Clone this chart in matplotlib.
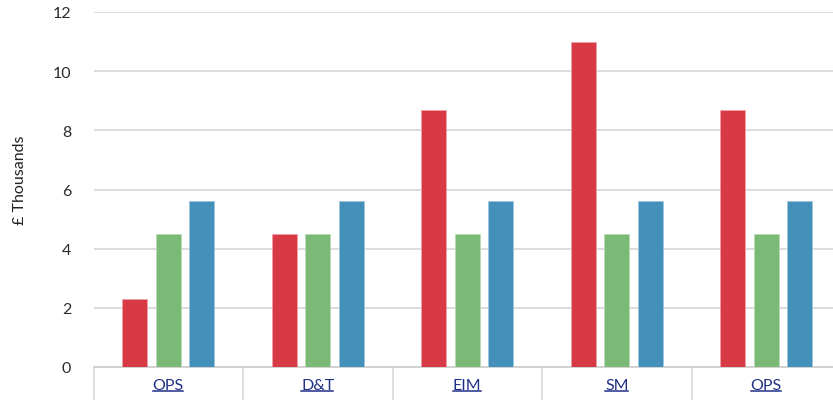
import matplotlib.pyplot as plt
import numpy as np
from matplotlib.lines import Line2D

categories = ['OPS', 'D&T', 'EIM', 'SM', 'OPS']
red_vals = [2.3, 4.5, 8.7, 11.0, 8.7]
green_vals = [4.5, 4.5, 4.5, 4.5, 4.5]
blue_vals = [5.6, 5.6, 5.6, 5.6, 5.6]
y_ticks = [0, 2, 4, 6, 8, 10, 12]

colors = ['#d73a44', '#7aba76', '#4391bb']
edges = ['#eca0a5', '#b6dbb3', '#9cc6dd']

plt.rcParams['font.family'] = ['Lato', 'DejaVu Sans']

W, H = 833, 402
fig = plt.figure(figsize=(W / 100, H / 100), dpi=100)
ax = fig.add_axes([93.5 / W, (H - 368) / H, 747.5 / W, 355 / H])

x = np.arange(len(categories))
off = 0.224
bw = 0.165
for i, vals in enumerate([red_vals, green_vals, blue_vals]):
    ax.bar(x + (i - 1) * off, vals, width=bw, color=colors[i],
           edgecolor=edges[i], linewidth=0.6, zorder=3)

ax.set_xlim(-0.5, 4.5)
ax.set_ylim(0, 12)
ax.set_yticks(y_ticks)
ax.yaxis.grid(True, color='#d9d9d9', linewidth=1.3, zorder=0)
ax.tick_params(axis='y', length=0, pad=16, labelsize=11.5, labelcolor='#2b2b2b')

ax.set_xticks(x)
ax.set_xticklabels(categories, fontsize=11.5, color='#1f2f86')
ax.set_xticks(np.arange(-0.5, 5), minor=True)
ax.tick_params(axis='x', which='major', length=0, pad=8)
ax.tick_params(axis='x', which='minor', length=24, width=1.2, color='#d9d9d9')

for s in ['top', 'right', 'left']:
    ax.spines[s].set_visible(False)
ax.spines['bottom'].set_color('#cfcfcf')
ax.spines['bottom'].set_linewidth(1.3)

fig.text(20 / W, 1 - 180 / H, '£ Thousands', rotation=90, ha='center', va='center',
         fontsize=11.5, color='#222222')

# underline category labels
fig.canvas.draw()
r = fig.canvas.get_renderer()
for lab in ax.get_xticklabels():
    bb = lab.get_window_extent(r)
    y0 = bb.y0 + 1
    fig.add_artist(Line2D([bb.x0 / W, (bb.x1 - 1) / W], [y0 / H, y0 / H],
                          color='#1f2f86', linewidth=1.1))

fig.savefig('out.png', dpi=100)
